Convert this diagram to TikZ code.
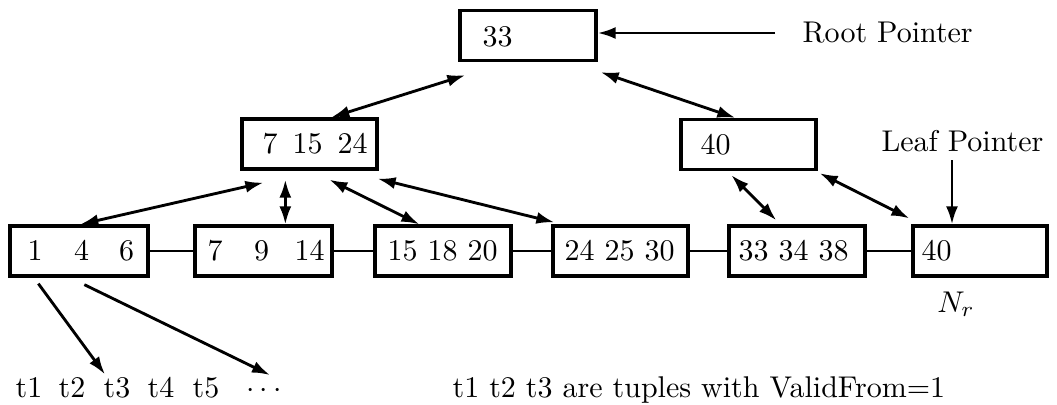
\documentclass[tikz,border=0pt]{standalone}
\usetikzlibrary{arrows.meta}
\def\pxunit{0.3333pt}
\begin{document}
\begin{tikzpicture}[x=0.3333pt,y=-0.3333pt,
  every node/.style={font=\fontsize{10}{12}\selectfont},
  nodebox/.style={draw, line width=1.1pt, inner sep=0pt,
    minimum width=#1*\pxunit, minimum height=50*\pxunit},
  keys/.style={anchor=west, inner sep=0pt},
  tup/.style={anchor=base west, inner sep=0pt},
  dbl/.style={{Latex[length=6pt,width=4pt]}-{Latex[length=6pt,width=4pt]}, line width=0.95pt},
  one/.style={-{Latex[length=6pt,width=4pt]}, line width=0.95pt},
  link/.style={line width=0.85pt}]
\useasboundingbox (0,0) rectangle (1057,404);

% index nodes
\node[nodebox=136] (R)  at (528,35.5) {};
\node[nodebox=135] (I1) at (309.5,144) {};
\node[nodebox=135] (I2) at (748.5,144.5) {};

% leaf nodes
\node[nodebox=138] (L1) at (79,251) {};
\node[nodebox=137] (L2) at (263.5,251) {};
\node[nodebox=136] (L3) at (443,251) {};
\node[nodebox=135] (L4) at (620.5,251) {};
\node[nodebox=136] (L5) at (797,251) {};
\node[nodebox=134] (L6) at (980,251) {};

% keys
\node[keys] (kR)  at (482,37)  {33};
\node[keys] (kI1) at (262,144) {7\hspace{5pt}15\hspace{5pt}24};
\node[keys] (kI2) at (700,145) {40};
\node[keys] (kL1) at (27,251)  {1\hspace{10.5pt}4\hspace{10pt}6};
\node[keys] (kL2) at (207,251) {7\hspace{10.5pt}9\hspace{8.5pt}14};
\node[keys] (kL3) at (387,251) {15 18 20};
\node[keys] (kL4) at (564,251) {24 25 30};
\node[keys] (kL5) at (738,251) {33 34 38};
\node[keys] (kL6) at (921,251) {40};

% leaf chain
\draw[link] (L1) -- (L2);
\draw[link] (L2) -- (L3);
\draw[link] (L3) -- (L4);
\draw[link] (L4) -- (L5);
\draw[link] (L5) -- (L6);

% parent/child pointers
\draw[dbl] ([shift={(7,13)}]R.south west) -- ([shift={(91,0)}]I1.north west);
\draw[dbl] ([shift={(3,10)}]R.south east) -- ([shift={(56,0)}]I2.north west);
\draw[dbl] ([shift={(23,12)}]I1.south west) -- ([shift={(72,0)}]L1.north west);
\draw[dbl] ([shift={(45,9)}]I1.south west) -- ([shift={(92,0)}]L2.north west);
\draw[dbl] ([shift={(89,9)}]I1.south west) -- ([shift={(46,0)}]L3.north west);
\draw[dbl] ([shift={(-1,8)}]I1.south east) -- ([shift={(3,-2)}]L4.north west);
\draw[dbl] ([shift={(52,4)}]I2.south west) -- ([shift={(49,-4)}]L5.north west);
\draw[dbl] ([shift={(2,2)}]I2.south east) -- ([shift={(-2,-6)}]L6.north west);

% root and leaf pointers
\node[anchor=west, inner sep=0pt] (rpt) at (802,33) {Root Pointer};
\coordinate (rps) at (775,33);
\draw[one] (rps) -- (rps -| R.east);
\node[anchor=west, inner sep=0pt] (lpt) at (881,141) {Leaf Pointer};
\coordinate (lps) at (952,160);
\draw[one] (lps) -- (lps |- L6.north);
\node (Nr) at (956,304) {$N_r$};

% tuples
\node[tup] (t1) at (15,397)  {t1};
\node[tup] (t2) at (58,397)  {t2};
\node[tup] (t3) at (103,397) {t3};
\node[tup] (t4) at (147,397) {t4};
\node[tup] (t5) at (192,397) {t5};
\node[tup] (tdots) at (246,397) {$\cdots$};
\node[tup] (note) at (452,397) {t1 t2 t3 are tuples with ValidFrom=1};

\draw[one] ([shift={(30,6)}]L1.south west) -- ([shift={(2,-2)}]t3.north west);
\draw[one] ([shift={(76,7)}]L1.south west) -- ([shift={(24,-8)}]tdots.north west);
\end{tikzpicture}
\end{document}
